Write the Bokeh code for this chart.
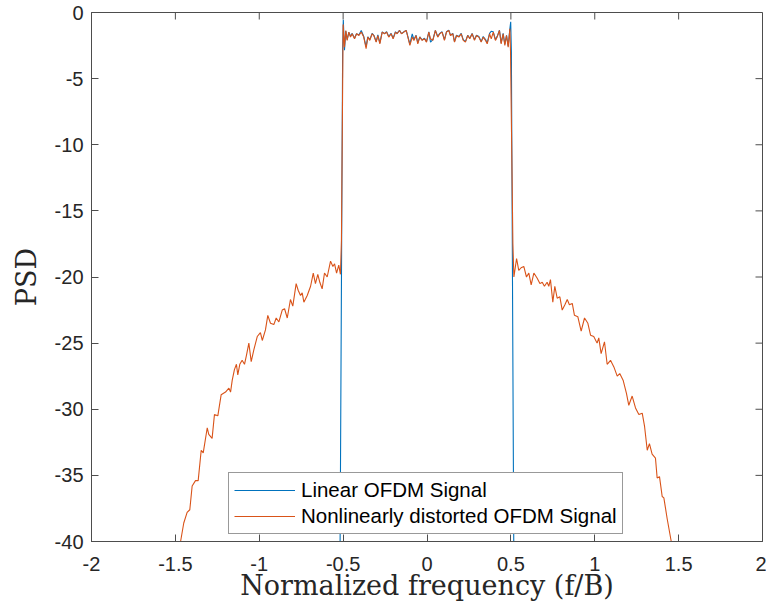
import math
from bokeh.plotting import figure
from bokeh.models import Range1d, FixedTicker, Legend, LegendItem
from bokeh.embed import file_html
from bokeh.resources import INLINE

# ---------------- data ----------------
x_ticks = [-2, -1.5, -1, -0.5, 0, 0.5, 1, 1.5, 2]
x_tick_labels = ["-2", "-1.5", "-1", "-0.5", "0", "0.5", "1", "1.5", "2"]
y_ticks = [-40, -35, -30, -25, -20, -15, -10, -5, 0]
y_tick_labels = ["-40", "-35", "-30", "-25", "-20", "-15", "-10", "-5", "0"]

# nonlinear signal: left out-of-band skirt (incl. rising edge)
nl_left_f = [-1.490, -1.469, -1.450, -1.430, -1.414, -1.400, -1.380, -1.364, -1.346, -1.334,
             -1.310, -1.301, -1.281, -1.267, -1.247, -1.227, -1.201, -1.181, -1.171, -1.161,
             -1.148, -1.136, -1.128, -1.116, -1.102, -1.088, -1.076, -1.062, -1.048, -1.032,
             -1.012, -0.993, -0.982, -0.963, -0.949, -0.933, -0.913, -0.899, -0.883, -0.863,
             -0.849, -0.833, -0.814, -0.800, -0.780, -0.768, -0.754, -0.744, -0.734, -0.714,
             -0.694, -0.678, -0.665, -0.651, -0.639, -0.625, -0.611, -0.595, -0.575, -0.561,
             -0.551, -0.539, -0.526, -0.516, -0.510, -0.500]
nl_left_psd = [-41.5, -40.0, -38.6, -37.8, -37.6, -35.8, -35.4, -35.4, -33.1, -33.3,
               -31.4, -31.9, -32.2, -30.4, -30.5, -28.9, -28.7, -28.4, -28.7, -27.8,
               -27.0, -26.6, -27.4, -26.6, -26.3, -26.6, -25.9, -25.0, -26.4, -25.5,
               -24.5, -24.2, -24.8, -24.0, -22.9, -23.5, -23.6, -23.1, -23.4, -22.5,
               -22.4, -23.1, -21.7, -22.2, -20.5, -21.0, -21.4, -21.2, -21.9, -21.4,
               -20.7, -19.7, -20.5, -19.8, -20.4, -20.9, -19.7, -20.0, -18.8, -19.2,
               -19.0, -19.7, -19.1, -19.8, -17.2, -0.9]

# in-band plateau (shared frequency grid)
band_f = [-0.492, -0.484, -0.476, -0.466, -0.456, -0.446, -0.432, -0.420, -0.406, -0.392,
          -0.377, -0.363, -0.353, -0.341, -0.327, -0.317, -0.303, -0.293, -0.281, -0.267,
          -0.253, -0.241, -0.228, -0.214, -0.202, -0.188, -0.178, -0.164, -0.152, -0.138,
          -0.124, -0.114, -0.102, -0.088, -0.078, -0.065, -0.055, -0.043, -0.029, -0.015,
          -0.003, 0.011, 0.021, 0.035, 0.050, 0.064, 0.076, 0.090, 0.104, 0.116,
          0.130, 0.140, 0.154, 0.164, 0.176, 0.190, 0.204, 0.216, 0.229, 0.243,
          0.255, 0.269, 0.283, 0.295, 0.309, 0.323, 0.335, 0.349, 0.359, 0.373,
          0.383, 0.395, 0.408, 0.418, 0.432, 0.442, 0.454, 0.464, 0.474, 0.484,
          0.494]
band_nl_psd = [-2.62, -1.36, -2.11, -1.48, -1.86, -1.61, -1.99, -1.61, -1.74, -1.48,
               -1.86, -2.74, -1.86, -2.11, -1.61, -1.74, -2.24, -1.74, -2.37, -1.48,
               -1.61, -1.48, -1.86, -1.61, -1.99, -1.48, -1.61, -1.36, -1.61, -1.48,
               -1.36, -1.86, -2.49, -1.86, -2.11, -1.74, -2.37, -1.86, -2.11, -1.99,
               -2.24, -1.48, -1.99, -2.11, -1.36, -1.86, -1.61, -1.48, -2.11, -1.48,
               -1.36, -1.74, -1.61, -2.24, -1.74, -1.86, -1.61, -2.11, -2.24, -1.74,
               -1.99, -1.61, -2.11, -1.74, -1.86, -2.24, -1.86, -2.11, -2.37, -1.61,
               -1.99, -1.48, -2.11, -1.86, -1.36, -2.37, -1.61, -2.49, -1.74, -2.62,
               -1.23]
band_lin_psd = [-2.85, -1.40, -2.05, -1.50, -1.80, -1.58, -1.95, -1.60, -1.70, -1.36,
                -1.82, -2.60, -1.84, -2.05, -1.58, -1.72, -2.20, -1.70, -2.30, -1.46,
                -1.60, -1.45, -1.82, -1.58, -1.95, -1.46, -1.58, -1.34, -1.60, -1.46,
                -1.35, -1.82, -2.40, -1.61, -2.05, -1.72, -2.30, -1.84, -2.08, -1.95,
                -2.20, -1.46, -2.24, -2.05, -1.36, -1.82, -1.58, -1.46, -2.05, -1.46,
                -1.34, -1.72, -1.58, -2.20, -1.72, -1.82, -1.58, -2.05, -2.20, -1.72,
                -1.95, -1.58, -2.05, -1.72, -1.82, -2.20, -1.82, -2.05, -2.30, -1.58,
                -1.42, -1.46, -2.05, -1.82, -1.34, -2.30, -1.58, -2.40, -1.72, -2.55,
                -1.23]

# nonlinear signal: falling edge + right out-of-band skirt
nl_right_f = [0.498, 0.512, 0.518, 0.534, 0.547, 0.561, 0.577, 0.593, 0.607, 0.621,
              0.637, 0.657, 0.673, 0.687, 0.700, 0.716, 0.726, 0.736, 0.750, 0.762,
              0.776, 0.792, 0.806, 0.822, 0.836, 0.849, 0.866, 0.879, 0.899, 0.919,
              0.939, 0.959, 0.975, 0.994, 1.014, 1.024, 1.038, 1.058, 1.074, 1.094,
              1.114, 1.134, 1.149, 1.169, 1.189, 1.203, 1.223, 1.243, 1.263, 1.283,
              1.297, 1.313, 1.326, 1.342, 1.362, 1.372, 1.386, 1.402, 1.412, 1.432,
              1.456, 1.470]
nl_right_psd = [-3.0, -17.5, -20.0, -18.6, -19.5, -19.3, -19.2, -20.0, -19.7, -20.6,
                -19.7, -20.1, -20.5, -20.4, -20.7, -20.4, -20.7, -20.2, -21.9, -20.7,
                -21.6, -21.5, -22.5, -22.1, -21.7, -22.1, -22.0, -22.9, -23.0, -24.1,
                -23.1, -23.5, -24.4, -24.5, -25.0, -24.6, -25.8, -24.9, -26.6, -26.3,
                -26.8, -27.5, -27.3, -27.8, -28.8, -29.7, -29.0, -29.9, -30.4, -30.3,
                -31.3, -33.1, -32.6, -33.4, -33.7, -35.2, -35.1, -36.6, -36.7, -38.3,
                -40.0, -41.5]

# linear signal band edges
lin_left_f = [-0.522, -0.503, -0.499]
lin_left_psd = [-50.0, -3.0, -0.55]
lin_right_f = [0.499, 0.503, 0.521]
lin_right_psd = [-0.7, -3.0, -50.0]

nl_f = nl_left_f + band_f + nl_right_f
nl_psd = nl_left_psd + band_nl_psd + nl_right_psd
lin_f = lin_left_f + band_f + lin_right_f
lin_psd = lin_left_psd + band_lin_psd + lin_right_psd

# ---------------- figure ----------------
AX = "#4d4d4d"
TXT = "#262626"
X0, X1 = -2, 2
Y0, Y1 = -40, 0

p = figure(width=766, height=612, output_backend="svg", toolbar_location=None,
           x_range=Range1d(X0, X1), y_range=Range1d(Y0, Y1),
           min_border_left=91, min_border_right=4, min_border_top=12, min_border_bottom=71)
p.outline_line_color = AX
p.outline_line_width = 1
p.xgrid.visible = False
p.ygrid.visible = False
p.background_fill_color = "white"
p.border_fill_color = "white"

for ax, ticks, labels in ((p.xaxis[0], x_ticks, x_tick_labels),
                          (p.yaxis[0], y_ticks, y_tick_labels)):
    ax.ticker = FixedTicker(ticks=ticks)
    ax.major_label_overrides = {t: l for t, l in zip(ticks, labels)}
    ax.major_tick_in = 7
    ax.major_tick_out = 0
    ax.minor_tick_line_color = None
    ax.axis_line_color = AX
    ax.axis_line_width = 1
    ax.major_tick_line_color = AX
    ax.major_tick_line_width = 1
    ax.major_label_text_color = TXT
    ax.major_label_text_font = "Liberation Sans"
    ax.major_label_text_font_size = "20px"
    ax.axis_label_text_font = "DejaVu Serif"
    ax.axis_label_text_font_size = "27px"
    ax.axis_label_text_font_style = "normal"
    ax.axis_label_text_color = TXT

p.xaxis[0].major_label_standoff = 15
p.yaxis[0].major_label_standoff = 8
p.xaxis[0].axis_label = "Normalized frequency (f/B)"
p.yaxis[0].axis_label = "PSD"
p.xaxis[0].axis_label_standoff = -4
p.yaxis[0].axis_label_standoff = 10

# inward ticks on the top and right edges of the box
p.ray(x=x_ticks, y=[Y1] * len(x_ticks), length=7, length_units="screen",
      angle=-math.pi / 2, line_color=AX, line_width=1)
p.ray(x=[X1] * len(y_ticks), y=y_ticks, length=7, length_units="screen",
      angle=math.pi, line_color=AX, line_width=1)

r_lin = p.line(lin_f, lin_psd, line_color="#0072BD", line_width=1.1)
r_nl = p.line(nl_f, nl_psd, line_color="#D95319", line_width=1.1)

legend = Legend(items=[LegendItem(label="Linear OFDM Signal", renderers=[r_lin]),
                       LegendItem(label="Nonlinearly distorted OFDM Signal", renderers=[r_nl])],
                location=(137, 7))
legend.label_text_font = "Liberation Sans"
legend.label_text_font_size = "20.5px"
legend.label_text_color = "#000000"
legend.glyph_width = 61
legend.glyph_height = 22
legend.label_height = 22
legend.label_standoff = 6
legend.padding = 5
legend.spacing = 2
legend.margin = 0
legend.border_line_color = "#333333"
legend.border_line_width = 1
legend.background_fill_color = "white"
legend.background_fill_alpha = 1
p.add_layout(legend)

open("out.html", "w").write(file_html(p, INLINE))
